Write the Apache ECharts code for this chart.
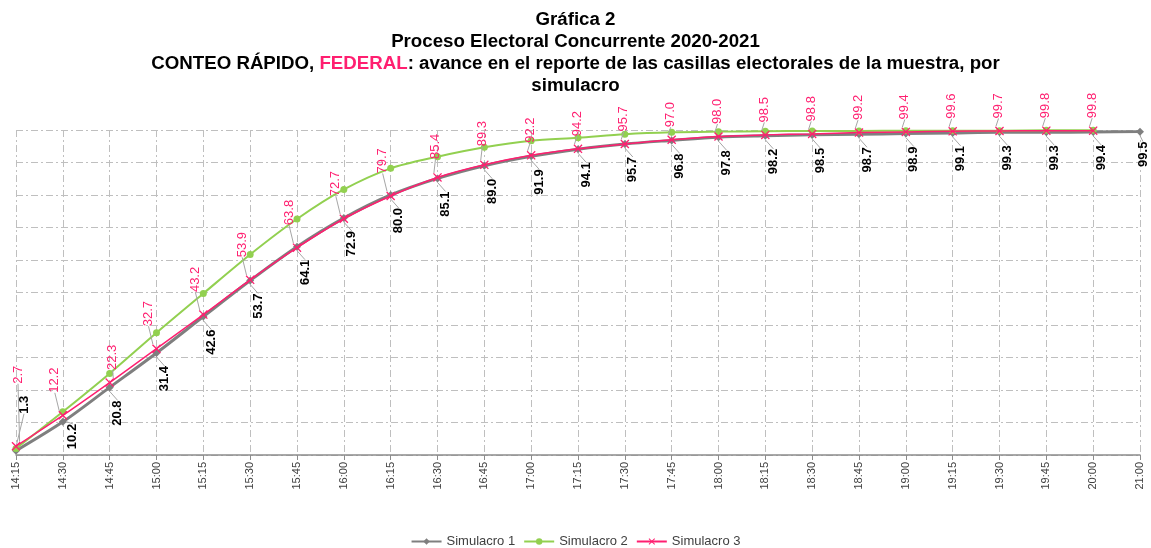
<!DOCTYPE html>
<html lang="es">
<head>
<meta charset="utf-8">
<title>Gráfica 2</title>
<script src="https://cdn.jsdelivr.net/npm/echarts@6/dist/echarts.min.js"></script>
<style>
  html, body { margin: 0; padding: 0; background: #fff; }
  #chart { width: 1151px; height: 548px; }
</style>
</head>
<body>
<div id="chart"></div>
<script>
// horas del conteo
var horas = ['14:15', '14:30', '14:45', '15:00', '15:15', '15:30', '15:45', '16:00', '16:15', '16:30',
  '16:45', '17:00', '17:15', '17:30', '17:45', '18:00', '18:15', '18:30', '18:45', '19:00',
  '19:15', '19:30', '19:45', '20:00', '21:00'];

var simulacro1 = [1.3, 10.2, 20.8, 31.4, 42.6, 53.7, 64.1, 72.9, 80.0, 85.1,
  89.0, 91.9, 94.1, 95.7, 96.8, 97.8, 98.2, 98.5, 98.7, 98.9,
  99.1, 99.3, 99.3, 99.4, 99.5];

var simulacro2 = [2.0, 13.3, 25.1, 37.6, 49.7, 61.7, 72.6, 81.7, 88.2, 91.8,
  94.7, 96.7, 97.6, 98.7, 99.3, 99.5, 99.6, 99.7, 99.7, 99.8,
  99.8, 99.8, 99.9, 99.9];

var simulacro3 = [2.7, 12.2, 22.3, 32.7, 43.2, 53.9, 63.8, 72.7, 79.7, 85.4,
  89.3, 92.2, 94.2, 95.7, 97.0, 98.0, 98.5, 98.8, 99.2, 99.4,
  99.6, 99.7, 99.8, 99.8];

var gris = '#7f7f7f';
var verde = '#92d050';
var rosa = '#ff1f70';
var guia = { show: true, lineStyle: { color: '#a6a6a6', width: 1 } };

// la primera etiqueta del simulacro 1 va arriba del punto
var datos1 = simulacro1.map(function (v, i) {
  if (i === 0) return { value: v, label: { position: 'top', align: 'left' } };
  return v;
});

var myChart = echarts.init(document.getElementById('chart'));

// ojo: con rotate 90, dx sube la etiqueta y dy la mueve a la derecha
var option = {
  backgroundColor: '#fff',
  textStyle: { fontFamily: 'Liberation Sans, Arial, sans-serif' },
  title: {
    left: 'center',
    top: 4,
    text: '{b|Gráfica 2}\n{b|Proceso Electoral Concurrente 2020-2021}\n' +
      '{b|CONTEO RÁPIDO, }{p|FEDERAL}{b|: avance en el reporte de las casillas electorales de la muestra, por}\n' +
      '{b|simulacro}',
    textStyle: {
      align: 'center',
      rich: {
        b: { fontSize: 18.7, fontWeight: 'bold', color: '#000', lineHeight: 22, fontFamily: 'Liberation Sans' },
        p: { fontSize: 18.7, fontWeight: 'bold', color: rosa, lineHeight: 22, fontFamily: 'Liberation Sans' }
      }
    }
  },
  legend: {
    top: 530,
    left: 'center',
    itemWidth: 30,
    itemHeight: 8,
    itemGap: 8,
    textStyle: { fontSize: 13, color: '#404040', fontFamily: 'Liberation Sans' },
    data: ['Simulacro 1', 'Simulacro 2', 'Simulacro 3']
  },
  grid: { left: 16, right: 11, top: 130, bottom: 93 },
  xAxis: {
    type: 'category',
    boundaryGap: false,
    data: horas,
    axisLine: { lineStyle: { color: '#8c8c8c', width: 1.5 } },
    axisTick: { show: true, length: 5, lineStyle: { color: '#8c8c8c' } },
    axisLabel: { rotate: 90, fontSize: 11, color: '#404040', margin: 7 },
    splitLine: { show: true, lineStyle: { color: '#bfbfbf', type: [7, 3, 2, 3] } }
  },
  yAxis: {
    type: 'value',
    min: 0,
    max: 100,
    interval: 10,
    axisLabel: { show: false },
    axisLine: { show: false },
    axisTick: { show: false },
    splitLine: { lineStyle: { color: '#bfbfbf', type: [7, 3, 2, 3] } }
  },
  series: [
    {
      name: 'Simulacro 1',
      type: 'line',
      data: datos1,
      smooth: 0.3,
      symbol: 'diamond',
      symbolSize: 8,
      lineStyle: { color: gris, width: 3 },
      itemStyle: { color: gris },
      label: {
        show: true,
        position: 'bottom',
        distance: 4,
        rotate: 90,
        align: 'right',
        verticalAlign: 'middle',
        fontSize: 13,
        fontWeight: 'bold',
        color: '#000',
        formatter: function (p) { return p.value.toFixed(1); }
      },
      labelLine: guia,
      labelLayout: function (p) {
        if (p.dataIndex === 0) return { dx: 29, dy: 8 };
        if (p.dataIndex === 1) return { dx: 6, dy: 10 };
        if (p.dataIndex === horas.length - 1) return { dx: -2, dy: 3 };
        return { dx: -5, dy: 8 };
      },
      z: 2
    },
    {
      name: 'Simulacro 2',
      type: 'line',
      data: simulacro2,
      smooth: 0.3,
      symbol: 'circle',
      symbolSize: 7,
      lineStyle: { color: verde, width: 2 },
      itemStyle: { color: verde },
      z: 3
    },
    {
      name: 'Simulacro 3',
      type: 'line',
      data: simulacro3,
      smooth: 0.3,
      symbol: 'path://M0,1 L1,0 L5,4 L9,0 L10,1 L6,5 L10,9 L9,10 L5,6 L1,10 L0,9 L4,5 Z',
      symbolSize: 9,
      lineStyle: { color: rosa, width: 1.5 },
      itemStyle: { color: rosa },
      label: {
        show: true,
        position: 'top',
        distance: 4,
        rotate: 90,
        align: 'left',
        verticalAlign: 'middle',
        fontSize: 13,
        color: rosa,
        formatter: function (p) { return p.value.toFixed(1); }
      },
      labelLine: guia,
      labelLayout: function (p) {
        if (p.dataIndex === 0) return { dx: 54, dy: 2 };
        if (p.dataIndex === 2) return { dx: 4, dy: 3 };
        if (p.dataIndex < 9) return { dx: 14, dy: -8 };
        if (p.dataIndex < 11) return { dx: 10, dy: -2 };
        return { dx: 4, dy: -1 };
      },
      z: 4
    }
  ]
};

myChart.setOption(option);
</script>
</body>
</html>
